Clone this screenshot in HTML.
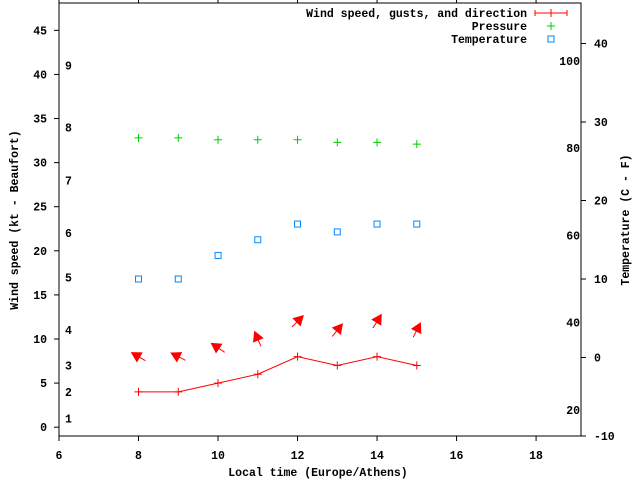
<!DOCTYPE html>
<html><head><meta charset="utf-8">
<style>
body{margin:0;background:#fff;}
svg{display:block;font-family:"Liberation Mono",monospace;font-weight:bold;font-size:11.5px;}
</style></head>
<body>
<svg id="chart" width="640" height="480" viewBox="0 0 640 480" xmlns="http://www.w3.org/2000/svg"></svg>
<script>
const hours = [8, 9, 10, 11, 12, 13, 14, 15];
const windKt = [4, 4, 5, 6, 8, 7, 8, 7];
const windFromDeg = [120, 117, 124, 157, 225, 219, 212, 207];
const pressureScaled = [32.8, 32.8, 32.6, 32.6, 32.6, 32.3, 32.3, 32.1];
const tempC = [10, 10, 13, 15, 17, 16, 17, 17];
const xTicks = [6, 8, 10, 12, 14, 16, 18];
const yTicks = [0, 5, 10, 15, 20, 25, 30, 35, 40, 45];
const y2Ticks = [-10, 0, 10, 20, 30, 40];
const fahrenheitLabels = [20, 40, 60, 80, 100];
const beaufortNums = [1, 2, 3, 4, 5, 6, 7, 8, 9];
const beaufortKt = [1, 4, 7, 11, 17, 22, 28, 34, 41];

const L = 59, R = 581, T = 3, B = 436;
const xMin = 6, xMax = 19.13, yMin = -1, yMax = 48.1, y2Min = -10, y2Max = 45.16;
const sx = v => L + (v - xMin) / (xMax - xMin) * (R - L);
const sy = v => B - (v - yMin) / (yMax - yMin) * (B - T);
const sy2 = v => B - (v - y2Min) / (y2Max - y2Min) * (B - T);

const svg = document.getElementById('chart');
const NS = 'http://www.w3.org/2000/svg';
function mk(tag, attrs, text) {
  const e = document.createElementNS(NS, tag);
  for (const k in attrs) e.setAttribute(k, attrs[k]);
  if (text !== undefined) e.textContent = text;
  svg.appendChild(e);
  return e;
}
let e;
e = mk('rect', {x: L, y: T, width: R - L, height: B - T, fill: 'none', stroke: '#000', 'stroke-width': 1});



xTicks.forEach(v => {
  const x = sx(v);
  e = mk('line', {x1: x, y1: B, x2: x, y2: B + 5, stroke: '#000'});
  
  
  e = mk('line', {x1: x, y1: T, x2: x, y2: T - 5, stroke: '#000'});
  
  
  e = mk('text', {x: x, y: 459, 'text-anchor': 'middle'}, v);
  
  
});
yTicks.forEach(v => {
  const y = sy(v);
  e = mk('line', {x1: L - 5, y1: y, x2: L, y2: y, stroke: '#000'});
  
  
  e = mk('text', {x: 47, y: y + 4, 'text-anchor': 'end'}, v);
  
  
});
y2Ticks.forEach(v => {
  const y = sy2(v);
  e = mk('line', {x1: R, y1: y, x2: R + 5, y2: y, stroke: '#000'});
  
  
  e = mk('text', {x: 594, y: y + 4, 'text-anchor': 'start'}, v);
  
  
});
fahrenheitLabels.forEach(f => {
  const y = sy2((f - 32) * 5 / 9);
  e = mk('text', {x: 580, y: y + 4, 'text-anchor': 'end'}, f);
  
  
});
beaufortNums.forEach((n, i) => {
  const y = sy(beaufortKt[i]);
  e = mk('text', {x: 65, y: y + 4}, n);
  
  
});

e = mk('text', {x: 318, y: 476, 'text-anchor': 'middle'}, 'Local time (Europe/Athens)');


e = mk('text', {x: 18, y: 220, 'text-anchor': 'middle', transform: 'rotate(-90 18 220)'}, 'Wind speed (kt - Beaufort)');


e = mk('text', {x: 629, y: 220, 'text-anchor': 'middle', transform: 'rotate(-90 629 220)'}, 'Temperature (C - F)');



e = mk('polyline', {points: hours.map((h, i) => sx(h) + ',' + sy(windKt[i])).join(' '), fill: 'none', stroke: '#f00', 'stroke-width': 1});


hours.forEach((h, i) => {
  const x = sx(h), y = sy(windKt[i]);
  e = mk('path', {d: `M${x - 4},${y}H${x + 4}M${x},${y - 4}V${y + 4}`, stroke: '#f00'});
  
  
  const cy = sy(windKt[i] + 4);
  const a = (windFromDeg[i] + 180) * Math.PI / 180;
  const dx = Math.sin(a), dy = -Math.cos(a), len = 16;
  const tx = x - dx * len / 2, ty = cy - dy * len / 2, hx = x + dx * len / 2, hy = cy + dy * len / 2;
  const px = -dy, py = dx, hl = 9, hw = 5;
  const bx = hx - dx * hl, by = hy - dy * hl;
  e = mk('line', {x1: tx, y1: ty, x2: bx, y2: by, stroke: '#f00', 'stroke-width': 1});
  
  
  e = mk('polygon', {points: `${hx},${hy} ${bx + px * hw},${by + py * hw} ${bx - px * hw},${by - py * hw}`, fill: '#f00', stroke: '#f00'});
  
  
});
hours.forEach((h, i) => {
  const x = sx(h), y = sy(pressureScaled[i]);
  e = mk('path', {d: `M${x - 4},${y}H${x + 4}M${x},${y - 4}V${y + 4}`, stroke: '#0c0'});
  
  
});
hours.forEach((h, i) => {
  const x = sx(h), y = sy2(tempC[i]);
  e = mk('rect', {x: x - 3, y: y - 3, width: 6, height: 6, fill: 'none', stroke: '#08f'});
  
  
});

const leg = [['Wind speed, gusts, and direction', '#f00'], ['Pressure', '#0c0'], ['Temperature', '#08f']];
leg.forEach((l, i) => {
  const y = 13 + i * 13;
  e = mk('text', {x: 527, y: y + 4, 'text-anchor': 'end'}, l[0]);
  
  
  if (i === 0) {
    e = mk('path', {d: `M535,${y}H567M535,${y - 3}V${y + 3}M567,${y - 3}V${y + 3}M551,${y - 4}V${y + 4}`, stroke: '#f00'});
  } else if (i === 1) {
    e = mk('path', {d: `M547,${y}H555M551,${y - 4}V${y + 4}`, stroke: l[1]});
  } else {
    e = mk('rect', {x: 548, y: y - 3, width: 6, height: 6, fill: 'none', stroke: l[1]});
  }
  
  
});
</script>
</body></html>
